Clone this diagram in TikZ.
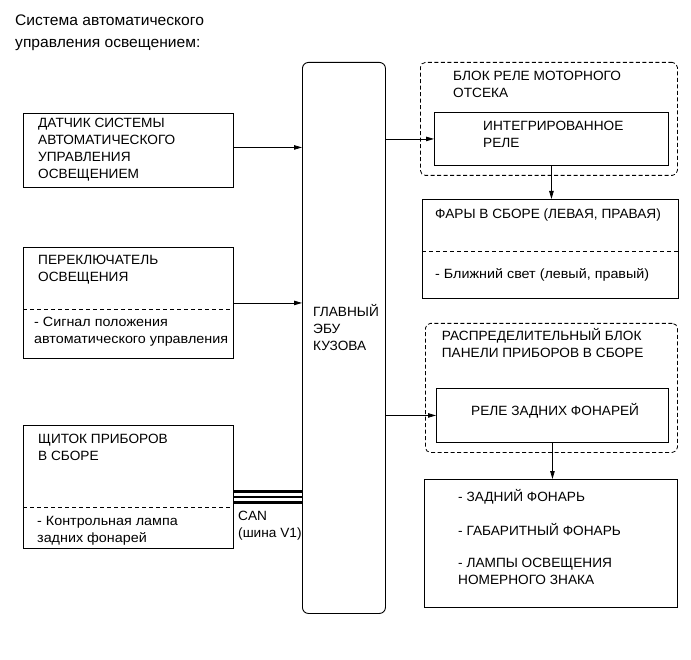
\documentclass[tikz,border=0pt]{standalone}
\usepackage{fontspec}
\setmainfont{Liberation Sans}[FakeStretch=1.02]
\newfontfamily\lowfam{Liberation Sans}[FakeStretch=1.07]
\usetikzlibrary{arrows.meta,positioning}

\newcommand{\boxfont}{\fontsize{13.4}{17}\selectfont}
\newcommand{\lowfont}{\lowfam\fontsize{13.4}{17}\selectfont}
\newcommand{\headfont}{\fontsize{15.3}{21.5}\selectfont}

\begin{document}
\begin{tikzpicture}[
  x=1pt,y=-1pt,
  blk/.style={rectangle,draw,line width=0.9pt,anchor=north west,inner sep=0pt},
  grp/.style={rectangle,draw,dash pattern=on 4pt off 2.5pt,line width=0.8pt,rounded corners=5pt,anchor=north west,inner sep=0pt},
  lbl/.style={anchor=north west,inner sep=0pt,align=left,font=\boxfont,execute at begin node=\strut},
  low/.style={lbl,font=\lowfont},
  div/.style={dash pattern=on 4pt off 3pt,line width=0.6pt},
  arr/.style={-{Triangle[length=8pt,width=4.5pt]},line width=0.8pt},
  bus/.style={line width=2.7pt}
]
\useasboundingbox (0,0) rectangle (691,660);

% title
\node[lbl,font=\headfont] (title) at (15,15) {Система автоматического\\управления освещением:};

% central ECU
\node[blk,rounded corners=6pt,minimum width=83pt,minimum height=551pt] (ecu) at (302,62) {};
\node[lbl] (ecutxt) at (313,304) {ГЛАВНЫЙ\\ЭБУ\\КУЗОВА};

% inputs
\node[blk,minimum width=210pt,minimum height=74pt] (sensor) at (23,113) {};
\node[lbl] (sensortxt) at (38,117.6) {ДАТЧИК СИСТЕМЫ\\АВТОМАТИЧЕСКОГО\\УПРАВЛЕНИЯ\\ОСВЕЩЕНИЕМ};

\node[blk,minimum width=210pt,minimum height=111pt] (switch) at (23,247) {};
\node[lbl] (switchtxt) at (38,255) {ПЕРЕКЛЮЧАТЕЛЬ\\ОСВЕЩЕНИЯ};
\node[low] (switchsig) at (34,317) {- Сигнал положения\\автоматического управления};
\draw[div] ([yshift=50pt]switch.south west) -- ([yshift=50pt]switch.south east);

\node[blk,minimum width=210pt,minimum height=123pt] (meter) at (23,425) {};
\node[lbl] (metertxt) at (38,434) {ЩИТОК ПРИБОРОВ\\В СБОРЕ};
\node[low] (meterlamp) at (37,515.6) {- Контрольная лампа\\задних фонарей};
\draw[div] ([yshift=42pt]meter.south west) -- ([yshift=42pt]meter.south east);

% outputs
\node[grp,minimum width=257pt,minimum height=113pt] (engbox) at (420,62) {};
\node[lbl] (engtxt) at (453,70.5) {БЛОК РЕЛЕ МОТОРНОГО\\ОТСЕКА};
\node[blk,minimum width=234pt,minimum height=53pt] (relay) at (434,112) {};
\node[lbl] (relaytxt) at (483,121) {ИНТЕГРИРОВАННОЕ\\РЕЛЕ};

\node[blk,minimum width=256pt,minimum height=99pt] (head) at (422,199) {};
\node[lbl] (headtxt) at (435,206.5) {ФАРЫ В СБОРЕ (ЛЕВАЯ, ПРАВАЯ)};
\node[low] (headlow) at (435,266) {- Ближний свет (левый, правый)};
\draw[div] ([yshift=48pt]head.south west) -- ([yshift=48pt]head.south east);

\node[grp,minimum width=252pt,minimum height=129pt] (panel) at (425,323) {};
\node[lbl] (paneltxt) at (441.7,328.3) {РАСПРЕДЕЛИТЕЛЬНЫЙ БЛОК\\ПАНЕЛИ ПРИБОРОВ В СБОРЕ};
\node[blk,minimum width=232pt,minimum height=54pt] (tailrly) at (436,388) {};
\node[lbl] (tailrlytxt) at (471,403.5) {РЕЛЕ ЗАДНИХ ФОНАРЕЙ};

\node[blk,minimum width=253pt,minimum height=128pt] (lamps) at (424,479) {};
\node[lbl] (lampa) at (458,489.5) {- ЗАДНИЙ ФОНАРЬ};
\node[lbl] (lampb) at (458,523.5) {- ГАБАРИТНЫЙ ФОНАРЬ};
\node[lbl] (lampc) at (458,558) {- ЛАМПЫ ОСВЕЩЕНИЯ\\НОМЕРНОГО ЗНАКА};

% connections
\draw[arr] ([yshift=3pt]sensor.east) -- ([yshift=3pt]sensor.east -| ecu.west);
\draw[arr] (switch.east) -- (switch.east -| ecu.west);
\draw[arr] (ecu.east |- relay.west) -- (relay.west);
\draw[arr] (ecu.east |- tailrly.west) -- (tailrly.west);
\draw[arr] (relay.south) -- (relay.south |- head.north);
\draw[arr] (tailrly.south) -- (tailrly.south |- lamps.north);

% CAN bus
\draw[bus] ([yshift=57.3pt]meter.south east) -- ([yshift=57.3pt]meter.south east -| ecu.west);
\draw[line width=1.2pt] ([yshift=52pt]meter.south east) -- ([yshift=52pt]meter.south east -| ecu.west);
\draw[bus] ([yshift=46.7pt]meter.south east) -- ([yshift=46.7pt]meter.south east -| ecu.west);
\node[lbl] (cantxt) at (238,510.7) {CAN\\(шина V1)};
\end{tikzpicture}
\end{document}
